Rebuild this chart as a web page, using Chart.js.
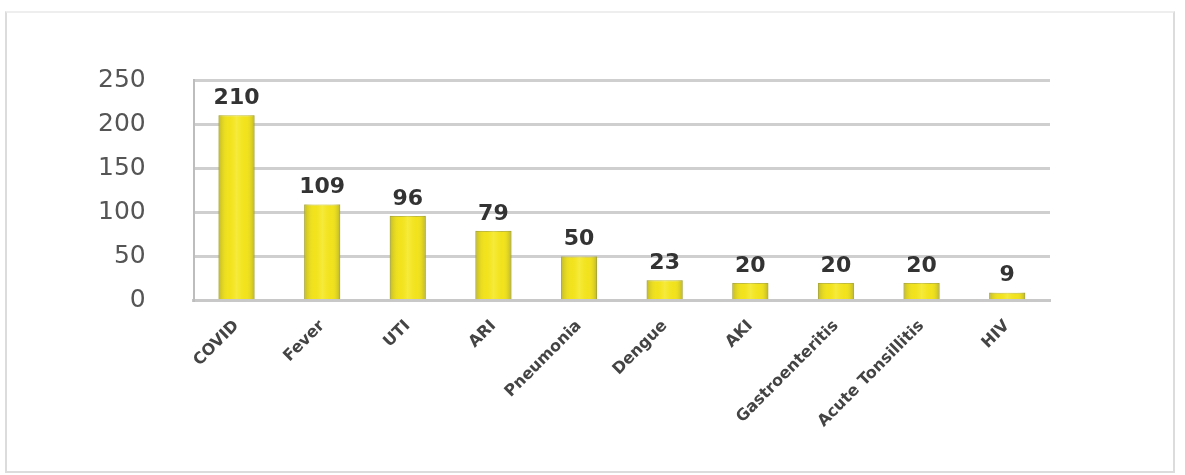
<!DOCTYPE html>
<html lang="en">
<head>
    <meta charset="UTF-8">
    <title>Cases by Diagnosis</title>
    <script src="https://cdn.jsdelivr.net/npm/chart.js"></script>
    <style>
        html, body {
            margin: 0;
            padding: 0;
            background: #fff;
        }
        #frame {
            position: absolute;
            left: 5px;
            top: 11px;
            width: 1166px;
            height: 458px;
            border: 2px solid #dcdcdc;
            border-top-color: #eeeeee;
        }
        #wrap {
            position: absolute;
            left: 0;
            top: 0;
            width: 1185px;
            height: 475px;
        }
    </style>
</head>
<body>
    <div id="frame"></div>
    <div id="wrap"><canvas id="casesChart"></canvas></div>

    <script>
        const diagnoses = ['COVID', 'Fever', 'UTI', 'ARI', 'Pneumonia', 'Dengue', 'AKI', 'Gastroenteritis', 'Acute Tonsillitis', 'HIV'];
        const caseCounts = [210, 109, 96, 79, 50, 23, 20, 20, 20, 9];
        const yTicks = [0, 50, 100, 150, 200, 250];

        // soft highlight down the middle of each bar, plus value on top
        const barDecor = {
            id: 'barDecor',
            afterDatasetsDraw(chart) {
                const ctx = chart.ctx;
                const meta = chart.getDatasetMeta(0);
                ctx.save();
                meta.data.forEach((bar, i) => {
                    const x0 = bar.x - bar.width / 2;
                    const g = ctx.createLinearGradient(x0, 0, x0 + bar.width, 0);
                    g.addColorStop(0, 'rgba(150,150,50,0.55)');
                    g.addColorStop(0.3, 'rgba(255,240,40,0)');
                    g.addColorStop(0.5, 'rgba(255,250,120,0.35)');
                    g.addColorStop(0.75, 'rgba(255,240,40,0)');
                    g.addColorStop(1, 'rgba(150,150,50,0.6)');
                    ctx.fillStyle = g;
                    ctx.fillRect(x0, bar.y, bar.width, bar.base - bar.y);
                });
                ctx.font = 'bold 22px "DejaVu Sans", sans-serif';
                ctx.fillStyle = '#333';
                ctx.textAlign = 'center';
                ctx.textBaseline = 'bottom';
                meta.data.forEach((bar, i) => {
                    ctx.fillText(String(caseCounts[i]), bar.x, bar.y - 6);
                });
                ctx.restore();
            }
        };

        new Chart(document.getElementById('casesChart'), {
            type: 'bar',
            data: {
                labels: diagnoses,
                datasets: [{
                    label: 'Cases',
                    data: caseCounts,
                    backgroundColor: '#f1e21d',
                    borderColor: '#bdb83e',
                    borderWidth: 1,
                    barPercentage: 0.42,
                    categoryPercentage: 1
                }]
            },
            options: {
                responsive: true,
                maintainAspectRatio: false,
                animation: false,
                layout: {
                    padding: { left: 50, right: 135, top: 80, bottom: 36 }
                },
                plugins: {
                    legend: { display: false },
                    tooltip: { enabled: false }
                },
                scales: {
                    x: {
                        grid: { display: false },
                        border: { color: '#c8c8c8', width: 3 },
                        ticks: {
                            color: '#444',
                            font: { family: '"DejaVu Sans", sans-serif', size: 16, weight: 'bold' },
                            minRotation: 45,
                            maxRotation: 45,
                            padding: 8
                        }
                    },
                    y: {
                        min: 0,
                        max: 250,
                        afterBuildTicks(axis) {
                            axis.ticks = yTicks.map(v => ({ value: v }));
                        },
                        grid: {
                            color: '#cfcfcf',
                            lineWidth: 3,
                            drawTicks: false
                        },
                        border: { color: '#bdbdbd', width: 2 },
                        ticks: {
                            color: '#555',
                            font: { family: '"DejaVu Sans", sans-serif', size: 25 },
                            padding: 48
                        }
                    }
                }
            },
            plugins: [barDecor]
        });
    </script>
</body>
</html>
